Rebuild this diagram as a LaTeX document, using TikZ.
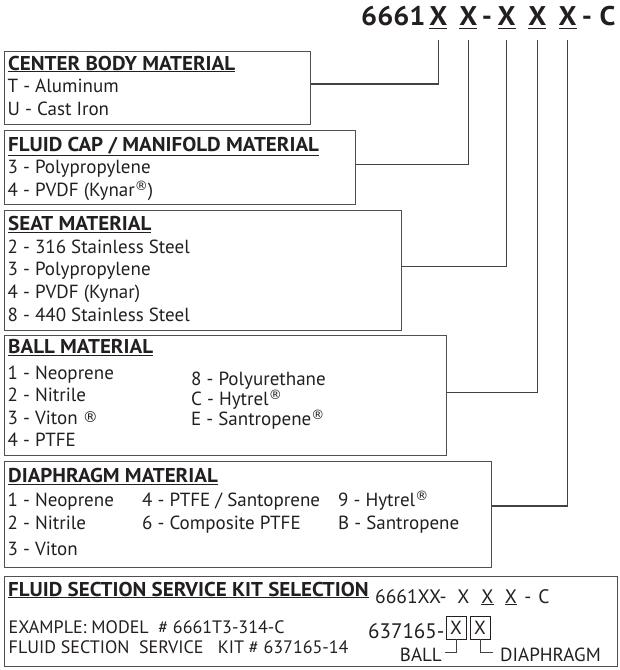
\documentclass[tikz,border=0pt]{standalone}
\usepackage{fontspec}
\setmainfont{PT Sans}[BoldFeatures={FakeStretch=1.05}]
\newfontfamily\symfont{DejaVu Sans}
\usetikzlibrary{positioning}
\definecolor{ink}{HTML}{231F20}
\definecolor{frame}{HTML}{505050}
\newcommand{\reg}{\raisebox{6pt}{\symfont\fontsize{13}{13}\selectfont ®}}
\newcommand{\regbig}{\raisebox{1.5pt}{\symfont\fontsize{15}{15}\selectfont ®}}

\begin{document}
\begin{tikzpicture}[x=1pt, y=-1pt, text=ink,
  font=\fontsize{19}{23}\selectfont,
  matbox/.style={draw=frame, line width=1.2pt, anchor=north west, inner sep=0pt},
  head/.style={anchor=base west, inner sep=0pt, font=\bfseries\fontsize{20}{24}\selectfont},
  item/.style={anchor=base west, inner sep=0pt},
  code/.style={anchor=base, inner sep=0pt, font=\bfseries\fontsize{27}{30}\selectfont},
  small/.style={anchor=base west, inner sep=0pt, font=\fontsize{18}{22}\selectfont},
  kit/.style={anchor=base, inner sep=0pt, font=\fontsize{19.5}{22}\selectfont},
  kitbox/.style={draw=ink, line width=0.8pt, minimum width=20pt, minimum height=23pt, inner sep=0pt},
  link/.style={draw=ink!85, line width=1.1pt}]
\useasboundingbox (0,0) rectangle (620,670);

% model code on top
\node[code, anchor=base west] (num) at (361,25) {6661};
\foreach \xp [count=\i] in {438.3,468.3,506.7,537.3,567.7} {
  \node[code] (x\i) at (\xp,25) {X};
  \draw[ink, line width=1.3pt] ([xshift=-9pt,yshift=-3pt]x\i.south) -- ([xshift=9pt,yshift=-3pt]x\i.south);
}
\node[code] (dash1) at (487,25) {-};
\node[code] (dash2) at (587,25) {-};
\node[code] (tail) at (607.5,25) {C};

% option boxes
\node[matbox, minimum width=306pt, minimum height=73.5pt] (body) at (3.5,50.5) {};
\node[matbox, minimum width=351.5pt, minimum height=74pt] (cap) at (3.5,130) {};
\node[matbox, minimum width=397pt, minimum height=119.5pt] (seat) at (3.5,210) {};
\node[matbox, minimum width=442pt, minimum height=120pt] (ball) at (3.5,335) {};
\node[matbox, minimum width=487.5pt, minimum height=106pt] (diaph) at (3.5,460.5) {};
\node[matbox, minimum width=613.5pt, minimum height=90pt] (kit) at (3.5,576) {};

% center body
\node[head] (body-t) at (8,70) {\underline{CENTER BODY MATERIAL}};
\foreach \t [count=\i] in {T - Aluminum, U - Cast Iron}
  \node[item] (body-\i) at (7.5,70+22.8*\i) {\t};

% fluid cap
\node[head] (cap-t) at (8,151) {\underline{FLUID CAP / MANIFOLD MATERIAL}};
\foreach \t [count=\i] in {3 - Polypropylene, 4 - PVDF (Kynar\reg)}
  \node[item] (cap-\i) at (7.5,151+22.8*\i) {\t};

% seat
\node[head] (seat-t) at (8,230.7) {\underline{SEAT MATERIAL}};
\foreach \t [count=\i] in {2 - 316 Stainless Steel, 3 - Polypropylene, 4 - PVDF (Kynar), 8 - 440 Stainless Steel}
  \node[item] (seat-\i) at (7.5,230.7+22.6*\i) {\t};

% ball
\node[head] (ball-t) at (8,353.3) {\underline{BALL MATERIAL}};
\foreach \t [count=\i] in {1 - Neoprene, 2 - Nitrile, 3 - Viton \regbig, 4 - PTFE}
  \node[item] (ball-\i) at (7.5,356.8+22.5*\i) {\t};
\foreach \t [count=\i] in {8 - Polyurethane, C - Hytrel\reg, E - Santropene\reg}
  \node[item] (ballb-\i) at (191,364.6+20.4*\i) {\t};

% diaphragm
\node[head] (diaph-t) at (8,482.7) {\underline{DIAPHRAGM MATERIAL}};
\node[item] (dia-1) at (7.5,506.7) {1 - Neoprene};
\node[item] (dia-2) at (7.5,529.3) {2 - Nitrile};
\node[item] (dia-3) at (7.5,555) {3 - Viton};
\node[item] (dia-4) at (142,506.7) {4 - PTFE / Santoprene};
\node[item] (dia-6) at (142,529.3) {6 - Composite PTFE};
\node[item] (dia-9) at (338,506.7) {9 - Hytrel\reg};
\node[item] (dia-b) at (338,529.3) {B - Santropene};

% service kit
\node[head] (kit-t) at (8,596) {\underline{FLUID SECTION SERVICE KIT SELECTION}};
\node[small] (kit-1) at (8.5,633.3) {EXAMPLE: MODEL \ \# 6661T3-314-C};
\node[small] (kit-2) at (8.5,653) {FLUID SECTION \ SERVICE \ \ KIT \# 637165-14};
\node[kit, anchor=base west] (kit-code) at (375,603) {6661XX-};
\node[kit] (kx1) at (463.5,603) {X};
\node[kit] (kx2) at (487.5,603) {\underline{X}};
\node[kit] (kx3) at (511,603) {\underline{X}};
\node[kit] (kdash) at (528,603) {-};
\node[kit] (kc) at (544,603) {C};
\node[kit, anchor=base west, font=\fontsize{21}{22}\selectfont] (kit-no) at (368,638) {637165-};
\node[kitbox] (bx1) at (456,627.5) {X};
\node[kitbox] (bx2) at (480,627.5) {X};
\node[item, anchor=base east] (lb-ball) at (442,661.7) {BALL};
\node[item] (lb-diaph) at (500,661.7) {DIAPHRAGM};
\draw[link, line width=0.8pt] (bx1.south) |- ([xshift=3pt,yshift=3pt]lb-ball.east);
\draw[link, line width=0.8pt] (bx2.south) |- ([xshift=-7pt,yshift=3pt]lb-diaph.west);

% connectors to the code letters
\draw[link] (body.east |- 0,84) -| ([yshift=-15pt]x1.south);
\draw[link] (cap.east |- 0,164.3) -| ([yshift=-15pt]x2.south);
\draw[link] (seat.east |- 0,266.7) -| ([yshift=-15pt]x3.south);
\draw[link] (ball.east |- 0,392.3) -| ([yshift=-15pt]x4.south);
\draw[link] (diaph.east |- 0,506) -| ([yshift=-15pt]x5.south);
\end{tikzpicture}
\end{document}
